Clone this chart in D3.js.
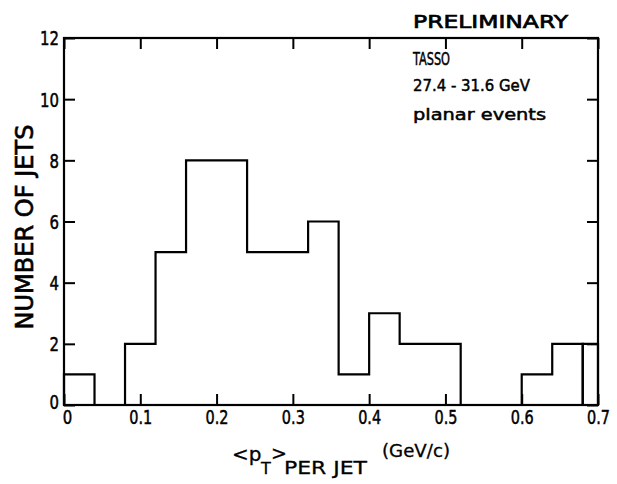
<!DOCTYPE html>
<html><head><meta charset="utf-8">
<script src="https://cdn.jsdelivr.net/npm/d3@7"></script>
<style>body{margin:0;background:#fff}svg{display:block}text{font-family:"Liberation Sans Narrow","DejaVu Sans",sans-serif;fill:#000}</style>
</head><body>
<svg id="c" width="617" height="484"></svg>
<script>
// data
const binStart = 0, binWidth = 0.04;
const counts = [1,0,2,5,8,8,5,5,6,1,3,2,2,0,0,1,2];
const lastBin = {x0:0.68, x1:0.70, n:2};
const xTicks = [0,0.1,0.2,0.3,0.4,0.5,0.6,0.7];
const xTickLabels = ["0","0.1","0.2","0.3","0.4","0.5","0.6","0.7"];
const yTicks = [0,2,4,6,8,10,12];
const infoLines = ["TASSO","27.4 - 31.6 GeV","planar events"];

const svg = d3.select("#c");
const x = d3.scaleLinear().domain([0,0.7]).range([64,598]);
const y = d3.scaleLinear().domain([0,12]).range([405,38]);
const fitLen = s => s.replace(/\./g,"").length*9.5 + (s.includes(".")?4:0);

// histogram step path
const pts = [[0,0]];
counts.forEach((c,i)=>{const a=binStart+i*binWidth;pts.push([a,c],[a+binWidth,c]);});
pts.push([binStart+counts.length*binWidth,0]);
const line = d3.line().x(d=>x(d[0])).y(d=>y(d[1]));
svg.append("path").attr("d",line(pts)).attr("fill","none").attr("stroke","#000").attr("stroke-width",2.2).attr("stroke-linejoin","miter");
svg.append("path").attr("d",line([[lastBin.x0,0],[lastBin.x0,lastBin.n],[lastBin.x1,lastBin.n],[lastBin.x1,0]]))
  .attr("fill","none").attr("stroke","#000").attr("stroke-width",2.2);

// frame
svg.append("rect").attr("x",x(0)).attr("y",y(12)).attr("width",x(0.7)-x(0)).attr("height",y(0)-y(12))
  .attr("fill","none").attr("stroke","#000").attr("stroke-width",2.2);

// axes
const tk = 11;
const gB = svg.append("g").attr("transform",`translate(0,${y(0)})`)
  .call(d3.axisBottom(x).tickValues(xTicks).tickSize(-tk).tickPadding(6).tickFormat((d,i)=>xTickLabels[i]));
const gT = svg.append("g").attr("transform",`translate(0,${y(12)})`)
  .call(d3.axisTop(x).tickValues(xTicks).tickSize(-tk).tickFormat(""));
const gL = svg.append("g").attr("transform",`translate(${x(0)},0)`)
  .call(d3.axisLeft(y).tickValues(yTicks).tickSize(-tk).tickPadding(5).tickFormat(d3.format("d")));
const gR = svg.append("g").attr("transform",`translate(${x(0.7)},0)`)
  .call(d3.axisRight(y).tickValues(yTicks).tickSize(-tk).tickFormat(""));
[gB,gT,gL,gR].forEach(g=>{g.select(".domain").remove();g.selectAll("line").attr("stroke","#000").attr("stroke-width",2);});
gB.selectAll("text").attr("font-size",19).attr("font-family",null).attr("stroke","#000").attr("stroke-width",0.5)
  .attr("dx",(d,i)=>i===0?3:0)
  .attr("textLength",function(){return fitLen(this.textContent);}).attr("lengthAdjust","spacingAndGlyphs");
gL.selectAll("text").attr("font-size",19).attr("font-family",null).attr("dy",d=>d===0?"0.2em":"0.36em").attr("stroke","#000").attr("stroke-width",0.5)
  .attr("textLength",function(){return this.textContent.length*9.5;}).attr("lengthAdjust","spacingAndGlyphs");

// annotations
svg.append("text").attr("x",413).attr("y",28).attr("font-size",18).attr("stroke","#000").attr("stroke-width",0.7)
  .attr("textLength",155).attr("lengthAdjust","spacingAndGlyphs").text("PRELIMINARY");
const infoW=[37,117,133], infoY=[65,91,120], infoS=[17,16,16];
infoLines.forEach((t,i)=>svg.append("text").attr("x",413).attr("y",infoY[i]).attr("font-size",infoS[i])
  .attr("stroke","#000").attr("stroke-width",0.5).attr("textLength",infoW[i]).attr("lengthAdjust","spacingAndGlyphs").text(t));

// y label
svg.append("text").attr("transform","translate(33,227) rotate(-90)").attr("text-anchor","middle")
  .attr("font-size",24).attr("stroke","#000").attr("stroke-width",0.6).attr("textLength",205).attr("lengthAdjust","spacingAndGlyphs")
  .text("NUMBER OF JETS");

// x label (single text with tspans)
const xl = svg.append("text").attr("font-family","DejaVu Sans").attr("stroke","#000").attr("stroke-width",0.3);
xl.append("tspan").attr("x",232).attr("y",461).attr("font-size",20).text("<p");
xl.append("tspan").attr("x",261).attr("y",474).attr("font-size",16).text("T");
xl.append("tspan").attr("x",271).attr("y",460).attr("font-size",19).text(">");
xl.append("tspan").attr("x",284).attr("y",474).attr("font-size",17).attr("textLength",83).attr("lengthAdjust","spacingAndGlyphs").text("PER JET");
xl.append("tspan").attr("x",382).attr("y",457).attr("font-size",17).attr("textLength",68).attr("lengthAdjust","spacingAndGlyphs").text("(GeV/c)");
</script>
</body></html>
